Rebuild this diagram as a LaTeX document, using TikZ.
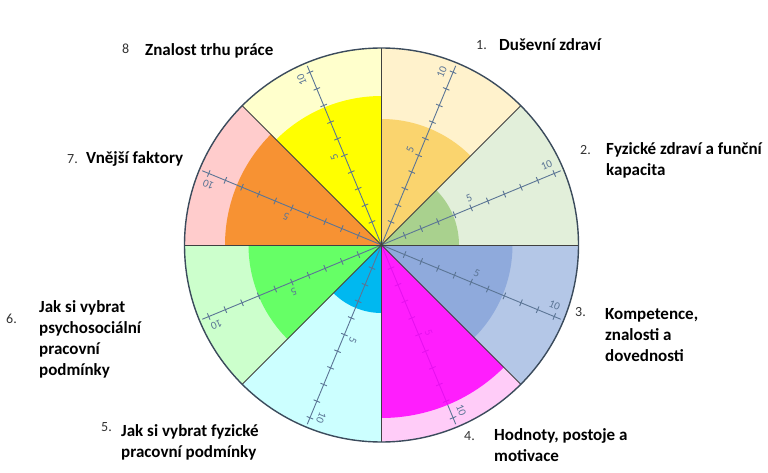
\documentclass[tikz,border=0pt]{standalone}
\usepackage{fontspec}
\setmainfont{Carlito}
\usetikzlibrary{calc}

% sector colours: outer ring / achieved value
\definecolor{outA}{HTML}{FFF2CC}\definecolor{inA}{HTML}{FAD46E}
\definecolor{outB}{HTML}{E2EFDA}\definecolor{inB}{HTML}{A9D18E}
\definecolor{outC}{HTML}{B4C7E7}\definecolor{inC}{HTML}{8FAADC}
\definecolor{outD}{HTML}{FFCCF8}\definecolor{inD}{HTML}{FF00FF}
\definecolor{outE}{HTML}{CCFFFF}\definecolor{inE}{HTML}{00B8F0}
\definecolor{outF}{HTML}{CCFFCC}\definecolor{inF}{HTML}{66FF66}
\definecolor{outG}{HTML}{FFCCCC}\definecolor{inG}{HTML}{F79233}
\definecolor{outH}{HTML}{FFFFCC}\definecolor{inH}{HTML}{FFFF00}
\definecolor{scalecol}{HTML}{5B7595}
\definecolor{rimcol}{HTML}{3B4B5C}
\definecolor{numcol}{HTML}{333333}

\tikzset{
  scaleline/.style={draw=scalecol, line width=0.9pt},
  scalelab/.style={text=scalecol, font=\fontsize{11}{11}\selectfont, inner sep=0pt},
  divider/.style={draw=black!75, line width=0.8pt},
  rim/.style={draw=rimcol, line width=1.4pt},
  numlab/.style={text=numcol, font=\fontsize{14}{14}\selectfont, anchor=base west, inner sep=0pt},
  % anchor sits on the baseline of the last line
  titlelab/.style={text=black, font=\fontsize{17}{21}\bfseries\selectfont, anchor=base west, inner sep=0pt, align=left},
}

% one graduated scale along direction #1 (degrees), tagged #2
\newcommand\gradscale[2]{%
  \draw[scaleline] (C) -- ++(#1:194);
  \foreach \k in {1,...,10}{
    \draw[scaleline] ($(C)+(#1:7+18*\k)+(#1+90:3.5)$) -- ($(C)+(#1:7+18*\k)+(#1-90:3.5)$);
  }
  \node[scalelab, rotate=#1] (five#2) at ($(C)+(#1:99)+(#1+90:10)$) {5};
  \node[scalelab, rotate=#1] (ten#2) at ($(C)+(#1:183)+(#1+90:10.5)$) {10};
}

\begin{document}
\begin{tikzpicture}[x=1pt,y=1pt]
\useasboundingbox (0,0) rectangle (768,-473);
\fill[white] (0,0) rectangle (768,-473);
\coordinate (C) at (381.5,-245);
\def\R{197}

% outer rings of the eight sectors
\foreach \s/\e/\c in {45/90/outA, 0/45/outB, -45/0/outC, -90/-45/outD,
                      -135/-90/outE, 180/225/outF, 135/180/outG, 90/135/outH}{
  \fill[\c] (C) -- ++(\s:\R) arc[start angle=\s, end angle=\e, radius=\R] -- cycle;
}

% the scale under the magenta value shows through faintly
\gradscale{-67.5}{D}

% achieved values
\foreach \s/\e/\r/\c/\o in {45/90/126/inA/1, 0/45/77.5/inB/1, -45/0/131/inC/1,
                      -90/-45/173/inD/0.85, -135/-90/68/inE/1, 180/225/133/inF/1,
                      135/180/156.5/inG/1, 90/135/149/inH/1}{
  \fill[\c, fill opacity=\o] (C) -- ++(\s:\r) arc[start angle=\s, end angle=\e, radius=\r] -- cycle;
}

% remaining scales
\gradscale{67.5}{A}
\gradscale{22.5}{B}
\gradscale{-22.5}{C}
\gradscale{-112.5}{E}
\gradscale{202.5}{F}
\gradscale{157.5}{G}
\gradscale{112.5}{H}

% sector dividers and rim
\foreach \a in {0,45,...,315}{
  \draw[divider] (C) -- ++(\a:\R);
}
\draw[rim] (C) circle[radius=\R];

% sector titles
\node[numlab] (n8) at (122,-54) {8};
\node[titlelab] (t8) at (145,-56) {Znalost trhu práce};
\node[numlab] (n1) at (476,-50) {1.};
\node[titlelab] (t1) at (499,-51) {Duševní zdraví};
\node[numlab] (n2) at (580,-155) {2.};
\node[titlelab] (t2) at (606,-176) {Fyzické zdraví a funční\\kapacita};
\node[numlab] (n3) at (575,-316) {3.};
\node[titlelab] (t3) at (605,-361) {Kompetence,\\znalosti a\\dovednosti};
\node[numlab] (n4) at (464,-440) {4.};
\node[titlelab] (t4) at (494,-461) {Hodnoty, postoje a\\motivace};
\node[numlab] (n5) at (101,-431) {5.};
\node[titlelab] (t5) at (121,-457) {Jak si vybrat fyzické\\pracovní podmínky};
\node[numlab] (n6) at (6,-323) {6.};
\node[titlelab] (t6) at (39,-375) {Jak si vybrat\\psychosociální\\pracovní\\podmínky};
\node[numlab] (n7) at (67,-164) {7.};
\node[titlelab] (t7) at (86,-164) {Vnější faktory};
\end{tikzpicture}
\end{document}
